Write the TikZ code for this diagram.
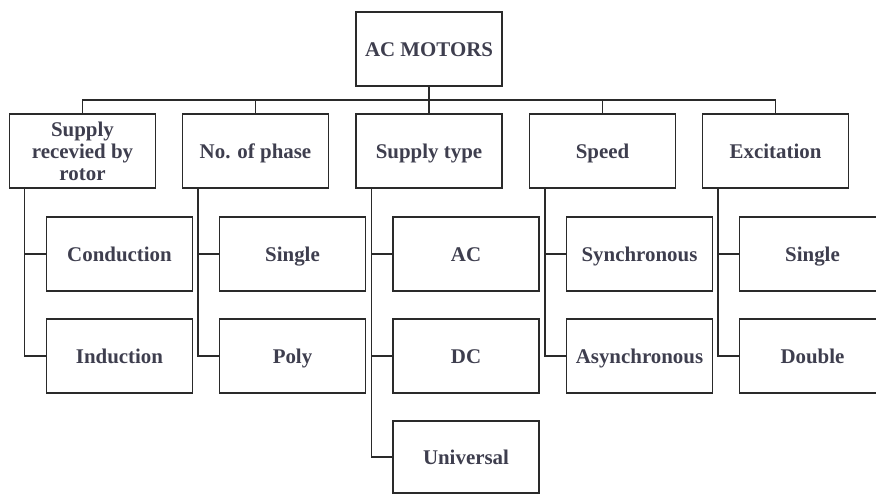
\documentclass[tikz,border=0pt]{standalone}
\usepackage{fontspec}
\setmainfont{Liberation Serif}
\usetikzlibrary{positioning}
\definecolor{LineGray}{RGB}{42, 42, 42}
\definecolor{TextSlate}{RGB}{62, 62, 78}

\begin{document}
\begin{tikzpicture}[
    box/.style={draw=LineGray, line width=0.8pt, minimum width=2.92cm, minimum height=1.48cm,
      inner sep=0pt, align=center, text=TextSlate, text height=10.2pt, text depth=1.4pt,
      font=\fontsize{11.9}{12.6}\selectfont\bfseries},
    link/.style={draw=LineGray, line width=0.8pt}]
    \useasboundingbox (0,0) rectangle (17.52,-9.88);
    \clip (0,0) rectangle (17.52,-9.88);

    % Root
    \node[box] (motors) at (8.58,-0.98) {AC MOTORS};
    \coordinate (bus) at (8.58,-2.0);

    % Categories
    \node[box, text height=, text depth=] (rotor) at (1.65,-3.02) {Supply\\recevied by\\rotor};
    \node[box] (phase)  at (5.11,-3.02)  {No. of phase};
    \node[box] (supply) at (8.58,-3.02)  {Supply type};
    \node[box] (speed)  at (12.05,-3.02) {Speed};
    \node[box] (excit)  at (15.51,-3.02) {Excitation};

    % Sub-types
    \node[box] (conduction) at (2.39,-5.08)  {Conduction};
    \node[box] (induction)  at (2.39,-7.12)  {Induction};
    \node[box] (single)     at (5.85,-5.08)  {Single};
    \node[box] (poly)       at (5.85,-7.12)  {Poly};
    \node[box] (ac)         at (9.32,-5.08)  {AC};
    \node[box] (dc)         at (9.32,-7.12)  {DC};
    \node[box, minimum height=1.44cm] (universal) at (9.32,-9.14) {Universal};
    \node[box] (sync)       at (12.79,-5.08) {Synchronous};
    \node[box] (async)      at (12.79,-7.12) {Asynchronous};
    \node[box] (singlex)    at (16.25,-5.08) {Single};
    \node[box] (double)     at (16.25,-7.12) {Double};

    % Bus from root to categories
    \draw[link] (motors.south) -- (bus);
    \draw[link] (rotor.north) -- (rotor.north |- bus) -- (excit.north |- bus) -- (excit.north);
    \draw[link] (phase.north) -- (phase.north |- bus);
    \draw[link] (supply.north) -- (bus);
    \draw[link] (speed.north) -- (speed.north |- bus);

    % Trunks down to sub-types
    \draw[link] ([xshift=3.2mm]rotor.south west) |- (induction.west);
    \draw[link] (conduction.west) -- ([xshift=3.2mm]rotor.south west |- conduction.west);
    \draw[link] ([xshift=3.2mm]phase.south west) |- (poly.west);
    \draw[link] (single.west) -- ([xshift=3.2mm]phase.south west |- single.west);
    \draw[link] ([xshift=3.2mm]supply.south west) |- (universal.west);
    \draw[link] (ac.west) -- ([xshift=3.2mm]supply.south west |- ac.west);
    \draw[link] (dc.west) -- ([xshift=3.2mm]supply.south west |- dc.west);
    \draw[link] ([xshift=3.2mm]speed.south west) |- (async.west);
    \draw[link] (sync.west) -- ([xshift=3.2mm]speed.south west |- sync.west);
    \draw[link] ([xshift=3.2mm]excit.south west) |- (double.west);
    \draw[link] (singlex.west) -- ([xshift=3.2mm]excit.south west |- singlex.west);
\end{tikzpicture}
\end{document}
